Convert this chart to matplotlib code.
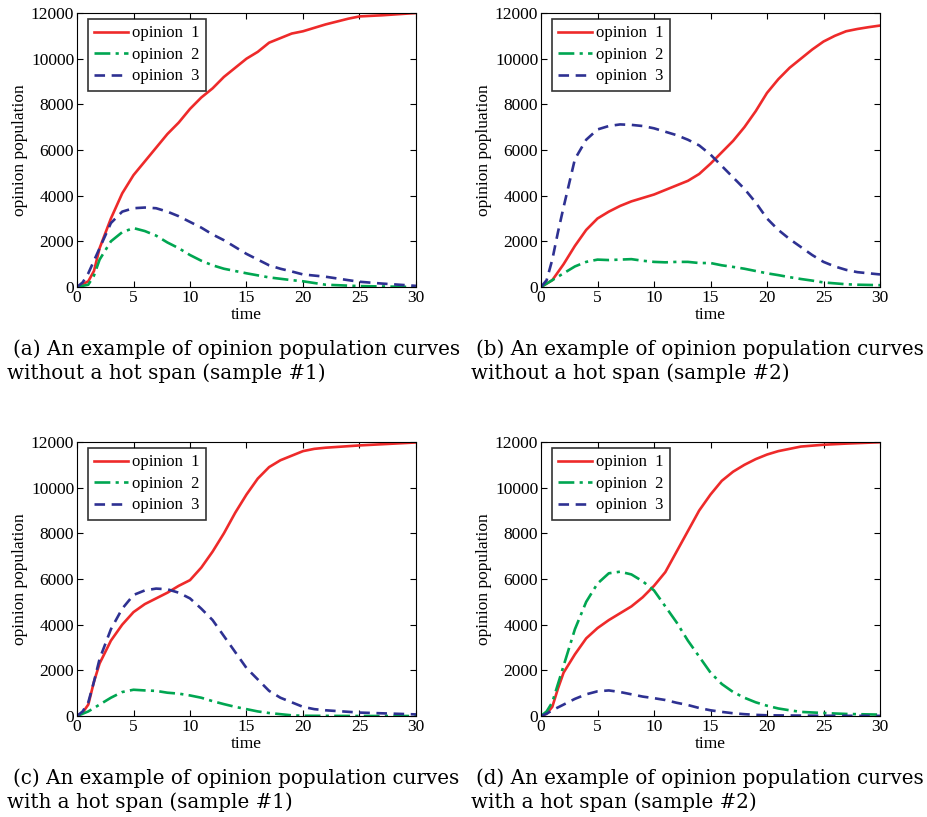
import numpy as np
import matplotlib
matplotlib.use("Agg")
import matplotlib.pyplot as plt

# ---------------- data ----------------
# panel (a)
a_t1 = [0, 1, 1.5, 2, 3, 4, 5, 6, 7, 8, 9, 10, 11, 12, 13, 14, 15, 16, 17, 18, 19, 20, 22, 24, 25, 27, 30]
a_op1 = [0, 250, 700, 1700, 3000, 4100, 4900, 5500, 6100, 6700, 7200, 7800, 8300, 8700, 9200, 9600, 10000,
         10300, 10700, 10900, 11100, 11200, 11500, 11750, 11850, 11900, 12000]
a_t2 = [0, 1, 1.5, 2, 3, 4, 5, 6, 7, 8, 9, 10, 11, 12, 13, 14, 15, 17, 19, 20, 22, 25, 30]
a_op2 = [0, 100, 500, 1200, 2000, 2400, 2580, 2450, 2250, 1950, 1700, 1400, 1150, 950, 800, 700, 600,
         420, 300, 250, 100, 40, 0]
a_t3 = [0, 0.5, 1, 2, 3, 4, 5, 6, 7, 8, 9, 10, 11, 12, 13, 14, 15, 16, 17, 18, 19, 20, 22, 24, 25, 27, 30]
a_op3 = [0, 200, 600, 1700, 2800, 3300, 3450, 3480, 3450, 3300, 3100, 2850, 2600, 2300, 2050, 1750, 1450,
         1200, 950, 800, 680, 550, 450, 300, 230, 150, 50]

# panel (b)
b_t1 = list(range(0, 31))
b_op1 = [0, 300, 1000, 1800, 2500, 3000, 3300, 3550, 3750, 3900, 4050, 4250, 4450, 4650, 4950, 5400,
         5900, 6400, 7000, 7700, 8500, 9100, 9600, 10000, 10400, 10750, 11000, 11200, 11300, 11380, 11450]
b_t2 = list(range(0, 29)) + [30]
b_op2 = [0, 300, 600, 900, 1100, 1200, 1180, 1200, 1220, 1150, 1100, 1080, 1100, 1100, 1050, 1050, 950,
         880, 800, 700, 600, 520, 430, 350, 280, 200, 160, 120, 100, 80]
b_t3 = [0, 0.5, 1, 1.5, 2, 3, 4, 5, 6, 7, 8, 9, 10, 11, 12, 13, 14, 15, 16, 17, 18, 19, 20, 21, 22, 23,
        24, 25, 26, 27, 28, 29, 30]
b_op3 = [0, 300, 1200, 2400, 3500, 5600, 6450, 6900, 7050, 7120, 7100, 7050, 6950, 6800, 6650, 6450, 6200,
         5800, 5300, 4800, 4300, 3700, 3000, 2500, 2100, 1750, 1400, 1100, 900, 750, 650, 600, 550]

# panel (c)
c_t1 = [0, 0.5, 1, 1.5, 2, 3, 4, 5, 6, 7, 8, 9, 10, 11, 12, 13, 14, 15, 16, 17, 18, 19, 20, 21, 22, 25, 30]
c_op1 = [0, 150, 500, 1500, 2300, 3300, 4000, 4550, 4900, 5150, 5400, 5700, 5950, 6500, 7200, 8000, 8900,
         9700, 10400, 10900, 11200, 11400, 11600, 11700, 11750, 11850, 11980]
c_t2 = [0, 1, 2, 3, 4, 5, 6, 7, 8, 9, 10, 11, 12, 13, 14, 15, 16, 17, 18, 19, 20, 25, 30]
c_op2 = [0, 200, 500, 800, 1050, 1150, 1120, 1100, 1020, 980, 900, 800, 650, 520, 400, 300, 200, 130, 80,
         30, 10, 0, 0]
c_t3 = [0, 0.5, 1, 1.5, 2, 3, 4, 5, 6, 7, 8, 9, 10, 11, 12, 13, 14, 15, 16, 17, 18, 19, 20, 21, 22, 25, 30]
c_op3 = [0, 200, 600, 1500, 2500, 3800, 4700, 5300, 5500, 5580, 5550, 5400, 5150, 4700, 4200, 3500, 2800,
         2100, 1600, 1100, 800, 600, 400, 300, 250, 150, 70]

# panel (d)
d_t1 = [0, 0.5, 1, 1.5, 2, 3, 4, 5, 6, 7, 8, 9, 10, 11, 12, 13, 14, 15, 16, 17, 18, 19, 20, 21, 22, 23,
        25, 27, 30]
d_op1 = [0, 100, 400, 1200, 1900, 2700, 3400, 3850, 4200, 4500, 4800, 5200, 5700, 6300, 7200, 8100, 9000,
         9700, 10300, 10700, 11000, 11250, 11450, 11600, 11700, 11800, 11880, 11930, 11990]
d_t2 = [0, 0.5, 1, 2, 3, 4, 5, 6, 7, 8, 9, 10, 11, 12, 13, 14, 15, 16, 17, 18, 19, 20, 21, 22, 23, 25,
        27, 30]
d_op2 = [0, 200, 600, 2200, 3800, 5000, 5800, 6250, 6320, 6200, 5900, 5500, 4800, 4100, 3300, 2600, 1900,
         1400, 1050, 800, 600, 450, 330, 250, 180, 130, 90, 60]
d_t3 = [0, 0.5, 1, 2, 3, 4, 5, 6, 7, 8, 9, 10, 11, 12, 13, 14, 15, 16, 17, 18, 19, 20, 25, 30]
d_op3 = [0, 100, 250, 500, 750, 950, 1080, 1120, 1050, 950, 850, 780, 700, 580, 480, 350, 250, 180, 120,
         80, 50, 30, 10, 5]

series_labels = ["opinion  1", "opinion  2", "opinion  3"]
x_ticks = [0, 5, 10, 15, 20, 25, 30]
y_ticks = [0, 2000, 4000, 6000, 8000, 10000, 12000]
y_labels = ["opinion population", "opinion popluation", "opinion population", "opinion population"]
captions = [
    ("(a) An example of opinion population curves", "without a hot span (sample #1)"),
    ("(b) An example of opinion population curves", "without a hot span (sample #2)"),
    ("(c) An example of opinion population curves", "with a hot span (sample #1)"),
    ("(d) An example of opinion population curves", "with a hot span (sample #2)"),
]

panels = [
    ((a_t1, a_op1), (a_t2, a_op2), (a_t3, a_op3)),
    ((b_t1, b_op1), (b_t2, b_op2), (b_t3, b_op3)),
    ((c_t1, c_op1), (c_t2, c_op2), (c_t3, c_op3)),
    ((d_t1, d_op1), (d_t2, d_op2), (d_t3, d_op3)),
]

# ---------------- style ----------------
W, H = 927, 817
plt.rcParams["font.family"] = ["Liberation Serif", "DejaVu Serif"]
fig = plt.figure(figsize=(W / 100, H / 100), dpi=100)

colors = ["#ee2a2a", "#00a651", "#2e3192"]
styles = ["-", (0, (6, 2, 1.2, 2)), (0, (4, 2.5))]

ax_px = [(77, 13, 416, 287), (541, 13, 880, 287), (77, 442, 416, 716), (541, 442, 880, 716)]
cap_y = [(349, 373), (349, 373), (778, 802), (778, 802)]
cap_x = [(13, 7), (476, 471), (13, 7), (476, 471)]


def px2fig(x, y):
    return x / W, 1 - y / H


for i, (l, t, r, b) in enumerate(ax_px):
    ax = fig.add_axes([l / W, 1 - b / H, (r - l) / W, (b - t) / H])
    for j, (xs, ys) in enumerate(panels[i]):
        ax.plot(xs, ys, color=colors[j], linestyle=styles[j], linewidth=1.9, label=series_labels[j])
    ax.set_xlim(0, 30)
    ax.set_ylim(0, 12000)
    ax.set_xticks(x_ticks)
    ax.set_yticks(y_ticks)
    ax.tick_params(direction="in", top=True, right=True, labelsize=12.5, length=4, width=0.8, pad=2)
    ax.set_xlabel("time", fontsize=12.5, labelpad=1)
    ax.set_ylabel(y_labels[i], fontsize=12.5, labelpad=2)
    for sp in ax.spines.values():
        sp.set_linewidth(0.8)
    leg = ax.legend(loc="upper left", bbox_to_anchor=(11 / 339, 1 - 6 / 274), borderaxespad=0,
                    fontsize=12, frameon=True, fancybox=False, edgecolor="black",
                    handlelength=2.0, handletextpad=0.25, borderpad=0.38, labelspacing=0.33)
    leg.get_frame().set_linewidth(1.2)

    l1, l2 = captions[i]
    x1, x2 = cap_x[i]
    y1, y2 = cap_y[i]
    fx, fy = px2fig(x1, y1)
    fig.text(fx, fy, l1, fontsize=14.3, family="DejaVu Serif", va="center", ha="left")
    fx, fy = px2fig(x2, y2)
    fig.text(fx, fy, l2, fontsize=14.3, family="DejaVu Serif", va="center", ha="left")

fig.savefig("out.png", dpi=100)
